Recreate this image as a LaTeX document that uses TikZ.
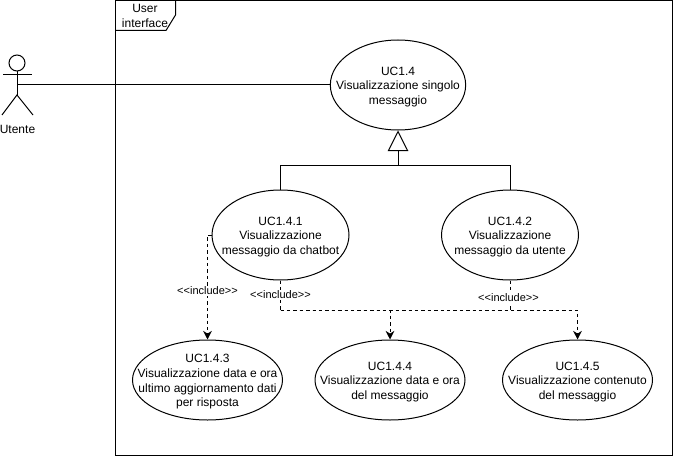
\documentclass[tikz,border=0pt]{standalone}
\usepackage{fontspec}
\setmainfont{Liberation Sans}
\usetikzlibrary{arrows.meta, shapes.geometric, calc}

\tikzset{
  usecase/.style={draw, ellipse, inner sep=0pt},
  every label/.style={align=center, inner sep=0pt, yshift=-1.5pt, font=\fontsize{9}{11}\selectfont},
  inclabel/.style={font=\fontsize{8.25}{9}\selectfont, fill=white, inner sep=1pt},
  dep/.style={dashed, dash pattern=on 2.6pt off 2.2pt, -{Stealth[length=6.5pt,width=6.5pt]}},
  deplink/.style={dashed, dash pattern=on 2.6pt off 2.2pt}
}

\begin{document}
\begin{tikzpicture}[x=0.75pt, y=-0.75pt, line width=0.75pt]
  \useasboundingbox (0, 0) rectangle (673, 456);

  % System frame
  \draw (115.5, 0.5) rectangle (672, 455);
  \draw (115.5, 30.5) -- (166, 30.5) -- (175.5, 15) -- (175.5, 0.5);
  \node[align=center, font=\fontsize{9}{11.25}\selectfont, inner sep=0pt] (frametitle) at (145, 16) {User\\interface};

  % Actor
  \node[draw, circle, minimum size=12pt, inner sep=0pt] (head) at (17, 63) {};
  \coordinate (hip) at (17, 95);
  \coordinate (waist) at (17, 85);
  \coordinate (handl) at (3, 75);
  \coordinate (handr) at (32, 75);
  \coordinate (footl) at (2, 115);
  \coordinate (footr) at (33, 115);
  \draw (head) -- (hip);
  \draw (handl) -- (handr);
  \draw (footl) -- (hip) -- (footr);
  \node[font=\fontsize{9}{11.25}\selectfont, inner sep=0pt] (utente) at (17.5, 129) {Utente};

  % Use cases
  \node[usecase, minimum width=101.5pt, minimum height=67.5pt, label=center:{UC1.4\\Visualizzazione singolo\\messaggio}] (uc14) at (398, 85) {};
  \node[usecase, minimum width=102.75pt, minimum height=67.5pt, label=center:{UC1.4.1\\Visualizzazione\\messaggio da chatbot}] (uc141) at (280.5, 235) {};
  \node[usecase, minimum width=102.75pt, minimum height=67.5pt, label=center:{UC1.4.2\\Visualizzazione\\messaggio da utente}] (uc142) at (510, 235) {};
  \node[usecase, minimum width=112.5pt, minimum height=60pt, label=center:{UC1.4.3\\Visualizzazione data e ora\\ultimo aggiornamento dati\\per risposta}] (uc143) at (207.5, 380) {};
  \node[usecase, minimum width=112.5pt, minimum height=60pt, label=center:{UC1.4.4\\Visualizzazione data e ora\\del messaggio}] (uc144) at (390, 380) {};
  \node[usecase, minimum width=112.5pt, minimum height=60pt, label=center:{UC1.4.5\\Visualizzazione contenuto\\del messaggio}] (uc145) at (577.5, 380) {};

  % Actor association
  \draw (waist) -- (uc14);

  % Generalization
  \coordinate (genbus) at (398, 165);
  \draw[-{Triangle[open, length=15.5pt, width=15.5pt, fill=white]}] (genbus) -- (uc14.south);
  \draw (uc141.north) |- (genbus);
  \draw (uc142.north) |- (genbus);

  % Includes
  \coordinate (busl) at (uc141.south |- 0, 310);
  \coordinate (busr) at (uc142.south |- 0, 310);
  \draw[dep] (uc141.west) -| (uc143.north);
  \draw[deplink] (uc141.south) -- (busl);
  \draw[deplink] (uc142.south) -- (busr);
  \draw[dep] (busl) -| (uc144.north);
  \draw[dep] (busl) -| (uc145.north);

  % Include labels
  \node[inclabel] (inc1) at (207.5, 291) {{<}{<}include{>}{>}};
  \node[inclabel] (inc2) at (280.5, 295) {{<}{<}include{>}{>}};
  \node[inclabel] (inc3) at (508.5, 297.5) {{<}{<}include{>}{>}};
\end{tikzpicture}
\end{document}
